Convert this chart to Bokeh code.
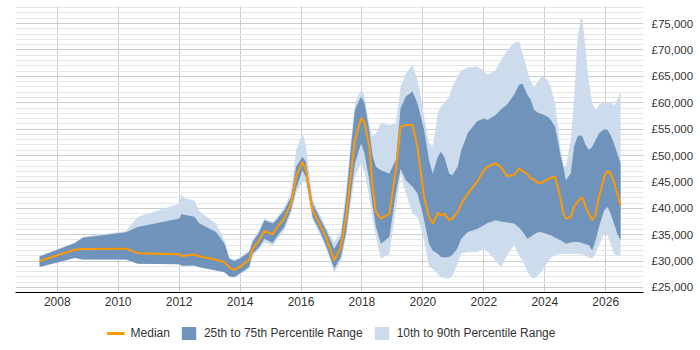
from bokeh.plotting import figure
from bokeh.layouts import column
from bokeh.models import Range1d, FixedTicker, Legend, LegendItem, ColumnDataSource
from bokeh.embed import file_html
from bokeh.resources import INLINE

years = [2007.42, 2008.57, 2008.84, 2010.26, 2010.64, 2012.01, 2012.08, 2012.17, 2012.5, 2012.67,
         2013.21, 2013.49, 2013.65, 2013.81, 2013.98, 2014.3, 2014.41, 2014.63, 2014.8, 2015.07,
         2015.18, 2015.45, 2015.67, 2015.84, 2016.05, 2016.16, 2016.38, 2016.6, 2016.82, 2017.09,
         2017.31, 2017.48, 2017.64, 2017.77, 2017.97, 2018.08, 2018.24, 2018.35, 2018.46, 2018.62,
         2018.9, 2019.11, 2019.27, 2019.44, 2019.66, 2019.82, 2019.95, 2020.04, 2020.2, 2020.32,
         2020.49, 2020.59, 2020.7, 2020.86, 2020.97, 2021.14, 2021.25, 2021.47, 2021.78, 2022.0,
         2022.12, 2022.28, 2022.39, 2022.56, 2022.77, 2022.99, 2023.16, 2023.27, 2023.43, 2023.54,
         2023.65, 2023.8, 2023.92, 2024.09, 2024.2, 2024.34, 2024.52, 2024.61, 2024.69, 2024.85,
         2024.96, 2025.07, 2025.18, 2025.24, 2025.34, 2025.45, 2025.56, 2025.67, 2025.78, 2025.95,
         2026.06, 2026.16, 2026.27, 2026.38, 2026.49]

p10 = [28900, 30600, 30300, 30300, 29500, 29400, 29100, 29100, 29150, 28850,
       28200, 27900, 27100, 26950, 27400, 28600, 31000, 32200, 33600, 32900,
       33800, 35900, 38900, 42800, 45330, 44800, 37800, 35300, 32400, 27800,
       30000, 34500, 41000, 46000, 48500, 47000, 42150, 38000, 34560, 30450,
       31400, 39630, 46500, 42800, 39000, 38360, 36000, 33940, 28860, 28550,
       27600, 26960, 26800, 26650, 27200, 29500, 31400, 31700, 31700, 32350,
       31800, 30760, 30000, 28860, 31080, 32980, 31000, 30130, 28000, 27000,
       26650, 27400, 28230, 29800, 30700, 31100, 31400, 31300, 31400, 31400,
       31400, 31400, 31300, 31200, 31000, 30700, 30450, 31500, 33000, 35200,
       34880, 33300, 31400, 30900, 31270]

p25 = [28900, 30600, 30300, 30300, 29500, 29400, 29100, 29100, 29150, 28850,
       28200, 27900, 27100, 26950, 27600, 28900, 31400, 32670, 34250, 33430,
       34400, 36460, 39630, 43750, 47230, 45800, 38360, 35830, 32980, 28550,
       30760, 35500, 42800, 48500, 52300, 50500, 45330, 40500, 36460, 33300,
       34560, 42800, 47500, 45330, 44070, 42800, 40000, 37750, 33300, 32030,
       31400, 30760, 30700, 30760, 31200, 32500, 34200, 35530, 36100, 36780,
       37200, 37500, 37750, 37500, 37300, 37100, 36300, 35600, 34250, 34600,
       35100, 35530, 35400, 35100, 34880, 34400, 33930, 33600, 33300, 33500,
       33600, 33620, 33500, 33400, 33200, 32980, 32030, 33930, 36460, 39630,
       40270, 39000, 37100, 35200, 33930]

median = [30000, 32150, 32300, 32350, 31500, 31300, 30950, 31000, 31250, 30900,
          30250, 29800, 28750, 28350, 28850, 30200, 32350, 33930, 35720, 35070,
          36150, 38050, 40900, 45960, 48810, 47230, 39630, 37100, 34600, 30130,
          32670, 38360, 46600, 52930, 57050, 56400, 51660, 44070, 39310, 38050,
          39000, 47230, 55450, 55770, 55770, 51660, 46000, 42150, 38360, 37100,
          39130, 38680, 39000, 37750, 38050, 39310, 40700, 42800, 45000, 47200,
          47860, 48300, 48500, 47800, 46100, 46280, 47550, 47100, 46500, 45650,
          45460, 44700, 44900, 45460, 45780, 45960, 41800, 39000, 38050, 38360,
          40270, 41220, 41860, 42040, 40270, 39000, 37750, 39000, 42150, 45960,
          47100, 46600, 45020, 42800, 40590]

p75 = [30900, 33400, 34400, 35450, 36450, 38050, 38900, 38800, 38400, 37100,
       35500, 33300, 30450, 30000, 30450, 31700, 33600, 35530, 37750, 37100,
       37700, 39630, 42150, 47860, 49760, 48800, 40900, 38360, 35830, 32350,
       34560, 42000, 51660, 58630, 61160, 60000, 54830, 50000, 47860, 47230,
       46600, 49130, 59000, 61160, 62110, 59920, 57000, 54830, 49130, 46600,
       49760, 50710, 49760, 46600, 46280, 47860, 50800, 54200, 56500, 57000,
       56730, 57300, 57680, 58700, 59700, 61500, 63400, 63590, 61500, 60540,
       58630, 58050, 57800, 57360, 56730, 55450, 50000, 47860, 45330, 46600,
       51660, 53570, 53880, 53500, 51980, 51030, 51660, 52930, 54200, 54960,
       54830, 53880, 52300, 50390, 48500]

p90 = [30900, 33500, 34600, 35700, 38350, 40900, 42700, 41900, 41500, 39400,
       37100, 33900, 30700, 30200, 30700, 32000, 34000, 35900, 38050, 37400,
       38000, 40270, 43000, 51030, 54200, 52000, 41800, 39000, 36400, 33620,
       35500, 43500, 53000, 60000, 62430, 61500, 56000, 53570, 54200, 56090,
       55770, 56000, 63080, 65570, 67180, 64340, 60500, 57360, 52300, 51660,
       58010, 59280, 59920, 61160, 63080, 65000, 66100, 66670, 66860, 66000,
       65290, 65800, 66230, 68000, 70000, 71300, 71630, 69420, 66000, 64030,
       62950, 64300, 65000, 64340, 62950, 59920, 51000, 48180, 47860, 52930,
       60540, 71940, 76050, 75730, 70050, 63720, 59920, 58630, 59600, 60220,
       59920, 60220, 59400, 60540, 62110]

year_ticks = [2008, 2010, 2012, 2014, 2016, 2018, 2020, 2022, 2024, 2026]
salary_ticks = [25000, 30000, 35000, 40000, 45000, 50000, 55000, 60000, 65000, 70000, 75000]
salary_labels = ["£25,000", "£30,000", "£35,000", "£40,000", "£45,000", "£50,000",
                 "£55,000", "£60,000", "£65,000", "£70,000", "£75,000"]
minor_salary_ticks = list(range(24000, 79000, 1000))
legend_labels = ["Median", "25th to 75th Percentile Range", "10th to 90th Percentile Range"]

MEDIAN_COLOR = "#ff9900"
IQR_COLOR = "#6f93bb"
DECILE_COLOR = "#cddcec"

src = ColumnDataSource(dict(x=years, p10=p10, p25=p25, med=median, p75=p75, p90=p90))

p = figure(width=700, frame_width=628, frame_height=287, output_backend="svg", toolbar_location=None,
           x_range=Range1d(2006.63, 2027.24), y_range=Range1d(24050, 78420),
           y_axis_location="right", min_border_left=15, min_border_top=5,
           min_border_right=0, min_border_bottom=0)
p.outline_line_color = None
p.background_fill_color = "white"

light = p.varea(x="x", y1="p10", y2="p90", source=src, fill_color=DECILE_COLOR, fill_alpha=1.0)
dark = p.varea(x="x", y1="p25", y2="p75", source=src, fill_color=IQR_COLOR, fill_alpha=1.0)
med = p.line(x="x", y="med", source=src, line_color=MEDIAN_COLOR, line_width=2)

p.xaxis.ticker = FixedTicker(ticks=year_ticks)
p.xaxis.axis_line_color = "black"
p.xaxis.major_tick_out = 0
p.xaxis.major_tick_in = 0
p.xaxis.minor_tick_out = 0
p.xaxis.minor_tick_in = 0
p.xaxis.major_label_standoff = 4
p.xaxis.major_label_text_font = "Liberation Sans"
p.xaxis.major_label_text_font_size = "12px"
p.xaxis.major_label_text_color = "#333333"

p.yaxis.ticker = FixedTicker(ticks=salary_ticks, minor_ticks=minor_salary_ticks)
p.yaxis.major_label_overrides = {t: l for t, l in zip(salary_ticks, salary_labels)}
p.yaxis.axis_line_color = None
p.yaxis.major_tick_out = 0
p.yaxis.major_tick_in = 0
p.yaxis.minor_tick_out = 0
p.yaxis.minor_tick_in = 0
p.yaxis.major_label_standoff = 8
p.yaxis.major_label_text_font = "Liberation Sans"
p.yaxis.major_label_text_font_size = "11.5px"
p.yaxis.major_label_text_color = "#333333"

p.xgrid.grid_line_color = "#cccccc"
p.ygrid.grid_line_color = "#cccccc"
p.ygrid.minor_grid_line_color = "#e6e6e6"

# legend strip below the chart: same series, drawn out of its (empty) view, keys only
lg = figure(width=700, height=42, output_backend="svg", toolbar_location=None,
            x_range=Range1d(0, 1), y_range=Range1d(0, 1), min_border=0, min_border_top=8)
lg.axis.visible = False
lg.grid.visible = False
lg.outline_line_color = None
k1 = lg.line(x="x", y="med", source=src, line_color=MEDIAN_COLOR, line_width=3)
k2 = lg.varea(x="x", y1="p25", y2="p75", source=src, fill_color=IQR_COLOR)
k3 = lg.varea(x="x", y1="p10", y2="p90", source=src, fill_color=DECILE_COLOR)
legend = Legend(items=[LegendItem(label=legend_labels[0], renderers=[k1]),
                       LegendItem(label=legend_labels[1], renderers=[k2]),
                       LegendItem(label=legend_labels[2], renderers=[k3])],
                orientation="horizontal", location="center", border_line_color=None,
                background_fill_alpha=0,
                label_text_font="Liberation Sans", label_text_font_size="12px",
                label_text_color="#333333", glyph_width=18, glyph_height=16,
                spacing=10, padding=0, margin=0, label_standoff=6)
lg.add_layout(legend, "center")

layout = column(p, lg, spacing=0)
open("out.html", "w").write(file_html(layout, INLINE))
